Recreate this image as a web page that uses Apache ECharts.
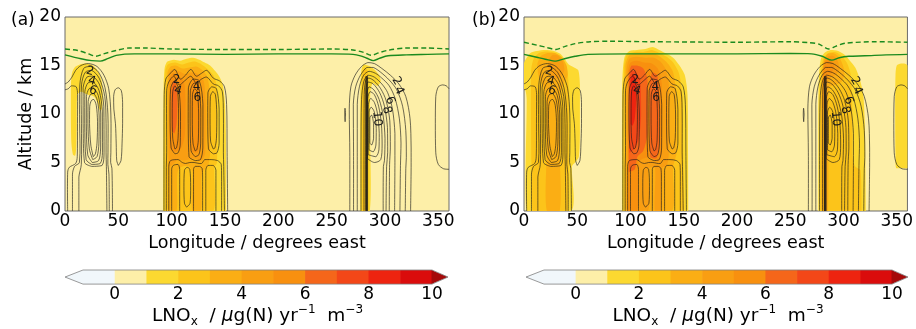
<!DOCTYPE html>
<html><head><meta charset="utf-8">
<script src="https://cdn.jsdelivr.net/npm/echarts/dist/echarts.min.js"></script>
<style>html,body{margin:0;padding:0;background:#fff}#c{width:916px;height:329px}</style>
</head><body><div id="c"></div>
<script>
// ---------------- tick labels / axes ----------------
const lonTicks = [0, 50, 100, 150, 200, 250, 300, 350];
const altTicks = [0, 5, 10, 15, 20];
const cbTicks = [0, 2, 4, 6, 8, 10];
const binEdges = [-1, 0, 1, 2, 3, 4, 5, 6, 7, 8, 9, 10];
const binColors = ['#f1f7fb','#fdefa8','#fcd930','#fcc41a','#fbae14','#f99e12','#f8900f','#f5661a','#f34718','#ee2410','#da0c0c'];
const underColor = '#f1f7fb', overColor = '#a50a0a';

// ---------------- tropopause lines (lon, km) ----------------
const tropSolidA = [[0,16.1],[15,15.7],[25,15.5],[33,15.45],[40,15.7],[48,16.05],[65,16.2],[100,16.2],[150,16.15],[200,16.2],[250,16.2],[270,16.15],[277,16.0],[283,15.75],[289,15.5],[295,15.75],[303,16.0],[320,16.1],[340,16.15],[360,16.2]];
const tropDashA  = [[0,16.7],[12,16.55],[22,16.2],[29,15.95],[36,16.2],[48,16.55],[60,16.8],[75,16.8],[100,16.7],[150,16.65],[200,16.65],[250,16.7],[270,16.6],[280,16.35],[287,16.05],[294,16.3],[302,16.55],[320,16.8],[340,16.8],[360,16.7]];
const tropSolidB = [[0,16.15],[12,15.85],[20,15.65],[30,15.45],[38,15.7],[48,15.95],[60,16.15],[100,16.2],[150,16.2],[200,16.2],[250,16.25],[270,16.2],[280,15.95],[289,15.55],[296,15.8],[305,15.95],[320,16.0],[340,16.1],[360,16.15]];
const tropDashB  = [[0,17.4],[12,17.1],[20,16.9],[30,16.65],[38,16.95],[48,17.25],[62,17.45],[80,17.5],[120,17.45],[200,17.4],[250,17.45],[268,17.35],[277,17.2],[286,16.7],[293,17.0],[302,17.3],[330,17.45],[360,17.4]];

// ---------------- LNOx filled regions, panel (a) ----------------
const A_R1_L1 = [[7.5,5.8],[6,7],[5.5,10],[5.5,12.8],[6.5,14.2],[9,14.8],[14,15.1],[20,15.2],[26,15.0],[31,14.4],[34.3,13.4],[35.3,11.8],[34.5,10.5],[32.5,10.4],[30.5,11.2],[27,11.8],[21,12.0],[15,12.3],[11.5,12.0],[11,9],[10.5,6.5],[9.5,5.7]];
const A_R2_L1 = [[92,0],[92.2,8],[92.5,13],[93.5,14.8],[96,15.4],[102,15.6],[108,15.5],[114,15.7],[120,15.8],[126,15.6],[131,15.3],[136,15.0],[141,14.4],[145,13.8],[148,13],[150,11],[150.8,8],[151,4],[151,0]];
const A_R2_L2 = [[94,0],[94,14.4],[96.5,15.1],[103,15.3],[110,15.1],[116,15.3],[122,15.4],[128,15.1],[134,14.6],[139,14.0],[142,13],[143,10],[142.5,5],[140,4.5],[139,0]];
const A_R2_L3 = [[96.5,0],[96,14.2],[99,14.9],[104,15.0],[110,14.7],[117,14.8],[123,14.9],[129,14.5],[133.5,13.8],[136,12],[136,6],[134,4.6],[130,4.2],[128,3.5],[127.5,0],[119.5,0],[119.5,4],[116,4.6],[110,4.6],[106,4.2],[105,3],[104.5,0]];
const A_R2_L4 = [[97.2,4.5],[97,14],[100.5,14.6],[107,14.4],[113,14.1],[119,14.3],[125,14.1],[130,13.4],[132,11],[131.5,6],[128,5.2],[120,5.4],[112,5.2],[106,5.3],[101,4.8]];
const A_R2_L5 = [[98.3,6.5],[98.2,13.6],[101.5,14.2],[107,13.9],[111.5,13.3],[113,11.5],[112.5,8],[109,6.5],[103,6.1]];
const A_R2_L5b = [[118.5,6.2],[118,12.8],[121,13.6],[125.5,13.3],[127,11],[126.5,7],[124,6.0]];
const A_R2_L6 = [[100.2,8.3],[99.8,12.4],[101.5,13.4],[104,13.2],[105.4,11.2],[104.6,9],[102.5,8]];
const A_R3_L1 = [[277,0],[276.8,8],[277,13],[278,14.6],[280,15.1],[284,15.0],[289,14.7],[294,14.1],[296,13.4],[293,12.9],[288.5,13.2],[286.2,12.2],[286,8],[285.8,0]];
const A_R3_L2 = [[278.8,0],[278.6,10],[278.7,14.2],[281,14.8],[283.8,14.4],[284.2,10],[284.2,0]];

// ---------------- LNOx filled regions, panel (b) ----------------
const B_R1_L1 = [[0,12.6],[0,15.2],[2.5,15.8],[6,16.3],[12,16.5],[20,16.6],[28,16.5],[34,16.2],[38,15.7],[42,15.1],[47,14.8],[51,14.5],[52.5,13],[52.5,8],[51.5,5.6],[48,5.0],[45,4.6],[44.5,0],[2.5,0],[2.5,11.5],[1.5,12.4]];
const B_R1_L2 = [[8,0],[7,5],[6.5,12.5],[7,14.8],[9.5,15.8],[14,16.3],[20,16.45],[28,16.35],[34,16.0],[38,15.3],[41,14.3],[42,12],[42,6],[41.5,0]];
const B_R1_L3 = [[21.5,0],[21.2,6],[20.8,11],[18,12.8],[13.5,14],[12.5,15.1],[16,16.0],[22,16.3],[29,16.3],[35,15.9],[40,15.0],[41,14.0],[37.5,13.2],[34,12],[33.5,6],[33.5,0]];
const B_R1_L4 = [[26,13.8],[23,14.6],[23,15.5],[27,16.1],[32,16.0],[36.5,15.4],[38,14.5],[35,13.9],[30,13.6]];
const B_R2_L1 = [[92,0],[92,12],[92.8,14.5],[94.5,15.9],[99,16.5],[106,16.6],[114,16.7],[121,16.9],[127,16.6],[134,16.2],[140,15.8],[146,15],[151,14],[153.5,12],[154,6],[154.3,0]];
const B_R2_L2 = [[93.8,0],[93.8,14.6],[96.5,16.1],[104,16.4],[112,16.4],[120,16.6],[127,16.3],[134,15.9],[140,15.3],[145.5,14.2],[148.5,12],[149.5,6],[150.5,0]];
const B_R2_L3 = [[95.2,0],[95.2,14.9],[98.5,16.0],[106,16.2],[114,16.2],[121,16.3],[128,15.9],[135,15.2],[140,14.3],[142.8,12],[143.2,6],[140,4.5],[139,0]];
const B_R2_L4 = [[96.5,0],[96.3,14.5],[99,15.7],[106,15.9],[114,15.8],[122,15.8],[128,15.4],[133,14.6],[136,13],[136,6],[134,4.6],[130,4.5],[129,0],[123,0],[123,4.4],[117,4.4],[116.5,0]];
const B_R2_L5 = [[98,0],[97.6,14.2],[100,15.3],[106,15.5],[113,15.3],[120,15.2],[126,14.6],[129.5,13],[129.5,6],[126,5.1],[118,5.5],[112,5.4],[107.5,5],[106.5,0]];
const B_R2_L6 = [[98.3,4],[98.3,14],[101,15],[106,15],[112,14.7],[116,13.5],[116,8],[112,6.2],[106.5,5.6],[104,4.3]];
const B_R2_L6b = [[118.5,5.6],[118,13],[120.5,14.3],[125,14],[127,12],[127,6.5],[124,5.4]];
const B_R2_L7 = [[99,6],[98.9,13.5],[101,14.5],[105,14.3],[109,13.5],[110,10],[108,7.5],[104,6.5]];
const B_R2_L8 = [[100,9],[100,13.4],[102,14.1],[104.5,13.7],[105.3,11.5],[104,9.5],[102,8.8]];
const B_R3_L1 = [[276.5,0],[276.3,10],[276.8,13.5],[278.5,15.6],[282,16.3],[288,16.6],[295,16.5],[301,16.1],[306,15.5],[311,14.8],[315,13.7],[318.5,12],[320,9],[320.5,5],[321,0]];
const B_R3_L2 = [[278.3,0],[278.2,11],[278.8,14.2],[281,15.7],[286,16.3],[292,16.4],[298,16.0],[303,15.3],[306.5,14.2],[308,12],[308.3,8],[308.5,5.5],[311,4.6],[316,4.2],[317,0]];
const B_R3_L3 = [[279.3,0],[279.2,10],[279.6,13.5],[281.5,15.5],[285,16.2],[290,16.3],[295.5,15.9],[299.5,15.0],[301,14.1],[298,13.3],[292,13.0],[287,12.8],[285.5,11],[285.3,0]];
const B_R3_L4 = [[280.2,10.5],[280.3,14.2],[282,15.4],[285,15.9],[290,16.0],[294.5,15.5],[296,14.6],[292,14.0],[287,13.7],[284.5,13],[283.5,10.5]];
const B_R3_L5 = [[281,13.2],[281.2,14.8],[283.5,15.5],[288,15.6],[291.5,15.0],[289.5,14.3],[285.5,14],[283.5,13.3]];
const B_R4_L1 = [[349.5,4.4],[348.8,6],[348.5,10],[348.8,14],[350,15.0],[354,15.2],[357,15.2],[360,15.0],[360,4.4]];

// level value of each filled region (paint order)
const fillsA = [[1.5,A_R1_L1],[1.5,A_R2_L1],[2.5,A_R2_L2],[3.5,A_R2_L3],[4.5,A_R2_L4],[5.5,A_R2_L5],[5.5,A_R2_L5b],[6.5,A_R2_L6],[1.5,A_R3_L1],[2.5,A_R3_L2]];
const fillsB = [[1.5,B_R1_L1],[2.5,B_R1_L2],[3.5,B_R1_L3],[4.5,B_R1_L4],[1.5,B_R2_L1],[2.5,B_R2_L2],[3.5,B_R2_L3],[4.5,B_R2_L4],[5.5,B_R2_L5],[6.5,B_R2_L6],[6.5,B_R2_L6b],[7.5,B_R2_L7],[8.5,B_R2_L8],[1.5,B_R3_L1],[2.5,B_R3_L2],[3.5,B_R3_L3],[4.5,B_R3_L4],[5.5,B_R3_L5],[1.5,B_R4_L1]];

// ---------------- contour lines (shared by both panels) ----------------
const C1a = [[26.5,5.6],[24.2,6.8],[23,9],[23.2,10.8],[24.8,11.4],[27,11.5],[29.3,10.9],[30.5,9.2],[30,7],[28.5,5.9],[26.5,5.6]];
const C1b = [[26,5.3],[22.8,6.4],[21.5,9],[21.7,11.3],[23.8,12.0],[27,12.1],[30.3,11.4],[32,9.8],[31.8,7],[30,5.6],[26,5.3]];
const C1c = [[25.5,5.0],[21.3,5.8],[20,9],[20.1,11.8],[22.5,12.6],[26.5,12.7],[31.2,11.9],[33.5,10],[33.4,6.5],[31.5,5.2],[25.5,5.0]];
const C1d = [[25,4.8],[19.8,5.3],[18.5,9],[18.6,12.3],[21.5,13.2],[26.5,13.3],[32,12.4],[35,10.3],[35.1,6],[33,4.9],[25,4.8]];
const C1e = [[25,4.6],[18.3,5.0],[17,9],[17,12.7],[20.5,13.8],[26,13.9],[32.5,13],[36.4,10.8],[36.6,6],[34.8,4.7],[25,4.6]];
const U1a = [[13,0],[13,3.5],[15.3,4.8],[15.4,9],[15.5,13],[19,14.3],[25,14.5],[32,13.7],[37.3,11.8],[38.5,9],[38.5,6],[38.8,4.6],[39.3,0]];
const U1b = [[7,0],[7,3.8],[9,4.6],[13.5,5],[13.7,9],[13.9,13],[17.5,14.7],[24,14.9],[31.5,14.3],[37.5,12.7],[40.2,10],[40.3,6],[40.2,4.8],[41.2,3.8],[41.5,0]];
const U1c = [[0,13.1],[3,13.3],[6.5,13.8],[10,14.5],[15,15.0],[22,15.2],[30,14.9],[36.5,14],[41,12.6],[43,10],[43,6],[42.8,5],[44,4.4],[44.5,0]];
const U1d = [[2.5,0],[2.5,4],[4,4.5],[10,4.9],[11.5,5.6],[11.7,9],[11.8,12],[10.5,12.8],[6,12.9],[3,12.6],[0,12.5]];
const R1 = [[50,4.7],[48.5,5.2],[48,7],[47.3,9],[45.8,10.5],[45.6,11.8],[47,12.5],[50,12.7],[52.8,12.4],[54,11.2],[54,9],[53.5,7],[52.5,5.2],[50,4.7]];
const R4 = [[360,4.3],[355,4.35],[350,4.8],[347.6,6],[347.2,9],[347.6,11.8],[350,12.8],[354,13.0],[357.5,12.9],[360,12.6]];
const O2a = [[92.8,0],[92.8,6],[93,12],[94.5,13.6],[98,14.1],[103,14.6],[108,13.6],[113,14.0],[118,14.6],[123,13.9],[128,14.2],[133,14.5],[139,13.7],[145,13.4],[149.5,12.8],[151.5,11],[152,6],[152.5,0]];
const O2b = [[95,0],[95,4.5],[95.3,6],[95.3,12.4],[97.3,13.3],[102,13.9],[107,13.0],[112,13.4],[118,13.9],[123,13.2],[128,13.6],[133,13.8],[139,13.1],[144,12.9],[147.5,12.3],[148.5,10],[148.5,6],[148.8,4.6],[149.5,0]];
const L2a = [[103,6.4],[101,7.5],[100.5,10],[101,12.3],[103,12.9],[105.5,12.4],[106.5,10],[106,7.5],[104.5,6.5],[103,6.4]];
const L2b = [[103,5.9],[99.5,6.5],[98.5,10],[99,12.6],[102.5,13.4],[106.5,12.6],[108.3,10],[108,6.8],[106,6],[103,5.9]];
const M2a = [[122,6.2],[120,7],[119.3,9.5],[119.5,12],[121.5,12.6],[124,12.3],[125.3,10],[125,7.3],[123.5,6.3],[122,6.2]];
const M2b = [[122,5.6],[118.2,6.2],[117.3,9.5],[117.5,12.4],[121,13.2],[125,12.9],[127.3,10.5],[127.2,7],[125.5,5.8],[122,5.6]];
const M2c = [[122,5.2],[116.3,5.6],[115.5,9.5],[115.7,12.7],[120,13.6],[126,13.4],[129.3,11],[129.2,6.5],[127,5.3],[122,5.2]];
const N2a = [[139,6.4],[136.5,7.2],[136,9.5],[136.3,11.8],[138.5,12.3],[141,12],[142.3,10],[142,7.5],[140.5,6.5],[139,6.4]];
const N2b = [[139,5.9],[134.5,6.4],[133.8,9.5],[134,12.2],[137.5,12.8],[142,12.6],[144.5,10.5],[144.5,7],[142.5,6],[139,5.9]];
const B2a = [[97.3,0],[97.3,4.6],[99,5.2],[106,5.3],[110,5.0],[113,4.9],[117,5.0],[121,5.0],[128,4.9],[131,5.3],[137,5.3],[143,5.2],[146.5,4.8],[146.8,3.5],[146.8,0]];
const B2b = [[100,0],[100,4.3],[101.5,4.7],[106,4.8],[107.5,4.3],[107.5,0]];
const B2c = [[114,0.4],[112,0.8],[111.5,2.5],[112,4.2],[114.5,4.5],[117,4.3],[117.8,2.5],[117.3,0.8],[114,0.4]];
const B2d = [[120.5,0],[120.5,4.3],[122,4.6],[126,4.6],[128.5,4.4],[129,3.5],[129,0]];
const B2e = [[132,0],[132,4.2],[134,4.7],[139,4.7],[141.5,4.2],[141.5,0]];
const U3a = [[267,0],[267,6],[266.5,10.5],[268,12.8],[272,14],[278,14.9],[284,15.3],[290,15.2],[297,14.7],[305,14.0],[313,13.1],[319.5,11.8],[323.5,9.5],[324.5,6.5],[324.5,4.5],[324,0]];
const U3b = [[270.5,0],[270.5,6],[270.3,11],[272.5,12.8],[277,14],[283,14.8],[289,14.8],[296,14.3],[304,13.5],[311,12.5],[316.5,10.8],[319.5,8.3],[320,5.5],[319.5,4.4],[319,0]];
const U3c = [[274,0],[274,6],[274,11],[276,12.8],[280,14],[285,14.4],[291,14.2],[297,13.7],[304,12.9],[309.5,11.6],[313.5,9.5],[315,7],[314.5,4.7],[314,0]];
const U3d = [[277.5,0],[277.5,6],[278,11.5],[280,13.3],[284,14.0],[290,13.8],[297,13.1],[302.5,12.2],[307,10.5],[309.3,8],[309.3,5],[309,0]];
const U3e = [[280.3,0],[280.3,6],[280.5,12],[282,13.5],[285,13.7],[290,13.4],[296,12.6],[301,11.4],[304.5,9.3],[305,6.5],[304.3,4.8],[304,0]];
const U3f = [[282,0],[282,6],[282.2,12.5],[284,13.3],[289,13.1],[295,12.2],[299.5,10.8],[302.3,8.6],[302.5,6],[301.5,4.6],[301,0]];
const U3g = [[282.8,0],[282.8,6],[283,12],[285,12.8],[289.5,12.5],[294.5,11.5],[298.3,9.8],[300,7.5],[299.5,5.2],[298.5,4.6],[298.3,0]];
const K1 = [[283.6,5.4],[283.5,9],[283.8,11.6],[286,12.3],[290,12],[294,10.8],[296.6,9],[297.3,6.8],[296,5.3],[290,5.0],[283.6,5.4]];
const K2 = [[284.3,5.8],[284.2,9],[284.5,11],[286.5,11.6],[290,11.2],[293,10],[294.6,8],[294.3,6.3],[291.5,5.6],[284.3,5.8]];
const K3 = [[285,6.3],[285,10.2],[287,10.7],[290,10.2],[291.8,8.5],[291.5,6.8],[289,6.1],[285,6.3]];
const K4 = [[285.8,7],[285.8,9.6],[287.5,9.9],[289.3,9],[289.3,7.5],[287.5,6.8],[285.8,7]];
const T3 = [[262.6,9.2],[262.2,9.9],[262.5,10.6],[263,10],[262.6,9.2]];
const bundle3 = [[282.9,0],[282.9,13.9]];
const contours = [C1a,C1b,C1c,C1d,C1e,U1a,U1b,U1c,U1d,R1,R4,O2a,O2b,L2a,L2b,M2a,M2b,M2c,N2a,N2b,B2a,B2b,B2c,B2d,B2e,U3a,U3b,U3c,U3d,U3e,U3f,U3g,K1,K2,K3,K4,T3];
const heavyContours = [bundle3];

// contour labels: text, lon, alt
const clabText = ['2','4','6','2','4','4','6','2','4','6','8','10'];
const clabPos = [[23.4,14.4],[25.2,13.4],[26.3,12.4],[104.5,13.5],[106,12.4],[123.3,12.8],[124,11.7],[311,13.4],[313,12.4],[304.7,11.4],[301.6,10.4],[292.5,9.5]];
const clabRotDeg = [-15,-15,-15,0,-15,0,0,-60,-65,-70,-75,-85];

// ---------------- build chart ----------------
const FONT = 'DejaVu Sans';
const BBOX_SELF = [[Infinity, Infinity], [-Infinity, -Infinity]];
function colorOf(v){ if (v < -1) return underColor; if (v >= 10) return overColor; return binColors[Math.floor(v) + 1]; }

function fillSeries(list, ax){
  return {type:'custom', xAxisIndex:ax, yAxisIndex:ax, z:1, silent:true, animation:false,
    data: list.map((f,i)=>[i,0]),
    renderItem(params, api){
      const f = list[params.dataIndex];
      return {type:'polygon', shape:{points:f[1].map(p=>api.coord(p)), smooth:0.25, smoothConstraint:BBOX_SELF},
        style:{fill:colorOf(f[0]), stroke:null}};
    }};
}
function contourSeries(list, ax, width){
  return {type:'custom', xAxisIndex:ax, yAxisIndex:ax, z:2, silent:true, animation:false,
    data: list.map((c,i)=>[i,0]),
    renderItem(params, api){
      const c = list[params.dataIndex];
      return {type:'polyline', shape:{points:c.map(p=>api.coord(p)), smooth:0.3, smoothConstraint:BBOX_SELF},
        style:{stroke:'#1a1a1a', lineWidth:width, fill:null, opacity:0.8}};
    }};
}
function labelSeries(ax){
  return {type:'custom', xAxisIndex:ax, yAxisIndex:ax, z:4, silent:true, animation:false,
    data: clabPos,
    renderItem(params, api){
      const p = api.coord([api.value(0), api.value(1)]);
      return {type:'text', x:p[0], y:p[1], rotation: clabRotDeg[params.dataIndex]*Math.PI/180,
        style:{text:clabText[params.dataIndex], fontSize:12, fontFamily:FONT, fill:'#1a1a1a', align:'center', verticalAlign:'middle'}};
    }};
}
function tropSeries(data, ax, dashed){
  return {type:'line', xAxisIndex:ax, yAxisIndex:ax, z:3, data, smooth:0.3, showSymbol:false, silent:true, animation:false,
    lineStyle:{color:'#1b8a1e', width:1.4, type: dashed ? [5,3] : 'solid'}};
}
function cbSeries(ax){
  return [{type:'custom', xAxisIndex:ax, yAxisIndex:ax, silent:true, animation:false,
    data: binColors.map((c,i)=>[binEdges[i], binEdges[i+1]]),
    renderItem(params, api){
      const p0 = api.coord([api.value(0),1]), p1 = api.coord([api.value(1),0]);
      return {type:'rect', shape:{x:p0[0], y:p0[1], width:p1[0]-p0[0]+0.6, height:p1[1]-p0[1]},
        style:{fill:binColors[params.dataIndex]}};
    }},
   {type:'custom', xAxisIndex:ax, yAxisIndex:ax, silent:true, animation:false, z:3,
    data: [[binEdges[0], binEdges[binEdges.length-1]]],
    renderItem(params, api){
      const a = api.coord([api.value(0),1]), b = api.coord([api.value(1),0]);
      const mid = (a[1]+b[1])/2, L = a[0]-18, R = b[0]+16;
      return {type:'group', children:[
        {type:'polygon', shape:{points:[[a[0]+0.5,a[1]],[a[0]+0.5,b[1]],[L,mid]]}, style:{fill:underColor}},
        {type:'polygon', shape:{points:[[b[0]-0.5,a[1]],[b[0]-0.5,b[1]],[R,mid]]}, style:{fill:overColor}},
        {type:'polygon', shape:{points:[[L,mid],[a[0],a[1]],[b[0],a[1]],[R,mid],[b[0],b[1]],[a[0],b[1]]]},
          style:{fill:null, stroke:'#808080', lineWidth:0.8}}
      ]};
    }}];
}

const plotX = (gi, withName) => ({
  type:'value', gridIndex:gi, min:0, max:360, interval:50,
  axisLine:{show:false}, axisTick:{show:false}, splitLine:{show:false},
  axisLabel:{fontSize:17, color:'#000', fontFamily:FONT, margin:2,
    formatter:v => lonTicks.indexOf(v) >= 0 ? String(v) : ''},
  name: withName ? 'Longitude / degrees east' : '', nameLocation:'middle', nameGap:15,
  nameTextStyle:{fontSize:17.5, color:'#000', fontFamily:FONT}
});
const plotY = (gi, withName) => ({
  type:'value', gridIndex:gi, min:0, max:20, interval:5,
  axisLine:{show:false}, axisTick:{show:false}, splitLine:{show:false},
  axisLabel:{fontSize:17, color:'#000', fontFamily:FONT, margin:4,
    formatter:v => altTicks.indexOf(v) >= 0 ? String(v) : ''},
  name: withName ? 'Altitude / km' : '', nameLocation:'middle', nameGap:25, nameRotate:90,
  nameTextStyle:{fontSize:17.5, color:'#000', fontFamily:FONT}
});
const cbName = '{a|LNO}{b|x}{a|  / }{c|μ}{a|g(N) yr}{d|−1}{a|  m}{d|−3}';
const cbX = gi => ({
  type:'value', gridIndex:gi, min:-1, max:10, interval:1,
  axisLine:{show:false}, axisTick:{show:false}, splitLine:{show:false},
  axisLabel:{fontSize:17, color:'#000', fontFamily:FONT, margin:2,
    formatter:v => cbTicks.indexOf(v) >= 0 ? String(v) : ''},
  name: cbName, nameLocation:'middle', nameGap:16,
  nameTextStyle:{color:'#000', fontFamily:FONT, rich:{
    a:{fontSize:18.5, lineHeight:24, fontFamily:FONT, color:'#000'},
    c:{fontSize:18.5, lineHeight:24, fontFamily:FONT, fontStyle:'italic', color:'#000'},
    b:{fontSize:12, lineHeight:12, fontFamily:FONT, verticalAlign:'bottom', color:'#000'},
    d:{fontSize:12, lineHeight:12, fontFamily:FONT, verticalAlign:'top', color:'#000'}
  }}
});
const cbY = gi => ({type:'value', gridIndex:gi, min:0, max:1, show:false});

const gridStyle = {show:true, backgroundColor:binColors[1], borderColor:'#6a6a6a', borderWidth:1};

const option = {
  animation:false,
  textStyle:{fontFamily:FONT},
  title:[
    {text:'(a)', left:6, top:7, textStyle:{fontSize:17, fontWeight:'normal', color:'#000', fontFamily:FONT}},
    {text:'(b)', left:467, top:7, textStyle:{fontSize:17, fontWeight:'normal', color:'#000', fontFamily:FONT}}
  ],
  grid:[
    Object.assign({left:65, top:17, width:384, height:194}, gridStyle),
    Object.assign({left:524, top:17, width:385, height:194}, gridStyle),
    {left:83, top:270, width:349, height:18},
    {left:544, top:270, width:348, height:18}
  ],
  xAxis:[plotX(0,true), plotX(1,true), cbX(2), cbX(3)],
  yAxis:[plotY(0,true), plotY(1,false), cbY(2), cbY(3)],
  series:[
    fillSeries(fillsA, 0), fillSeries(fillsB, 1),
    contourSeries(contours, 0, 0.8), contourSeries(contours, 1, 0.8),
    contourSeries(heavyContours, 0, 2.6), contourSeries(heavyContours, 1, 2.6),
    tropSeries(tropSolidA, 0, false), tropSeries(tropDashA, 0, true),
    tropSeries(tropSolidB, 1, false), tropSeries(tropDashB, 1, true),
    labelSeries(0), labelSeries(1),
    ...cbSeries(2), ...cbSeries(3)
  ]
};
const chart = echarts.init(document.getElementById('c'));
chart.setOption(option);
</script></body></html>
